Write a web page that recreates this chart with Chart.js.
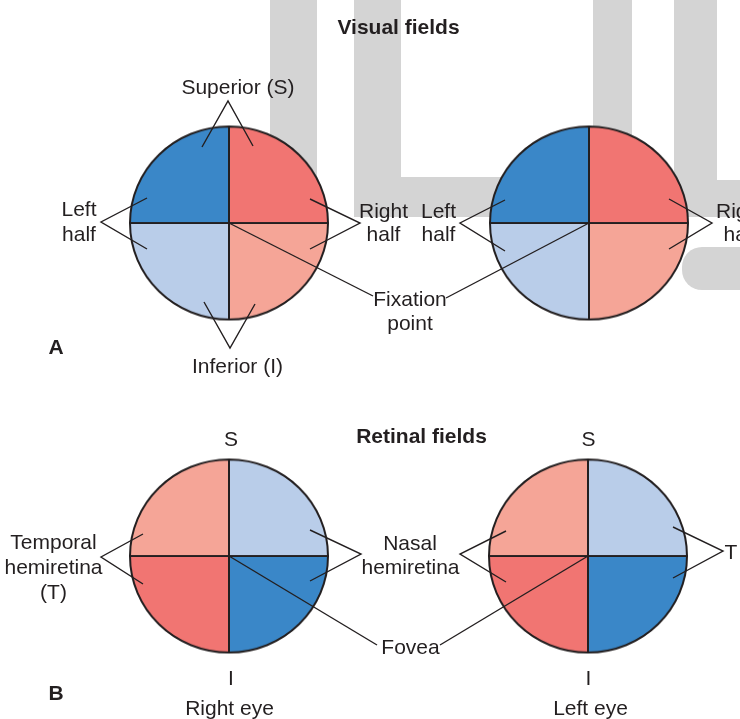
<!DOCTYPE html>
<html><head><meta charset="utf-8">
<script src="https://cdn.jsdelivr.net/npm/chart.js@4.4.1/dist/chart.umd.min.js"></script>
<style>
html,body{margin:0;padding:0;background:#fff;}
#stage{position:relative;width:740px;height:719px;overflow:hidden;background:#fff;}
.g{position:absolute;background:#d4d4d4;}
.pie{position:absolute;width:200px;height:200px;transform:scaleY(0.975);}
.pie canvas{display:block;}
#overlay{position:absolute;left:0;top:0;}
</style></head><body>
<div id="stage">
  <div class="g" style="left:270px;top:0;width:47px;height:223px"></div>
  <div class="g" style="left:354px;top:0;width:47px;height:217px"></div>
  <div class="g" style="left:354px;top:177px;width:278px;height:40px"></div>
  <div class="g" style="left:593px;top:0;width:39px;height:217px"></div>
  <div class="g" style="left:674px;top:0;width:43px;height:217px"></div>
  <div class="g" style="left:674px;top:180px;width:66px;height:37px"></div>
  <div class="g" style="left:682px;top:247px;width:100px;height:43px;border-radius:20px"></div>
  <div class="pie" style="left:129px;top:123px"><canvas id="pVL" width="200" height="200"></canvas></div>
  <div class="pie" style="left:489px;top:123px"><canvas id="pVR" width="200" height="200"></canvas></div>
  <div class="pie" style="left:129px;top:456px"><canvas id="pRL" width="200" height="200"></canvas></div>
  <div class="pie" style="left:488px;top:456px"><canvas id="pRR" width="200" height="200"></canvas></div>
  <canvas id="overlay" width="740" height="719"></canvas>
</div>
<script>
// ---- data ----
const quadrants = ['Superior right', 'Inferior right', 'Inferior left', 'Superior left'];
const quadrantValues = [25, 25, 25, 25];
const DARK_BLUE = '#3a87c8', RED = '#f17572', SALMON = '#f5a597', LIGHT_BLUE = '#b9cde9';
const visualFieldColors = [RED, SALMON, LIGHT_BLUE, DARK_BLUE];
const retinalFieldColors = [LIGHT_BLUE, DARK_BLUE, RED, SALMON];
const INK = '#231f20';

// leader lines (annotation layout)
const leaders = [
  [[202,147],[228,101],[253,146]],
  [[147,198],[101,222],[147,249]],
  [[310,199],[360,223],[310,249]],
  [[204,302],[230,348],[255,304]],
  [[229,223],[373,296]],
  [[446,298],[589,223]],
  [[505,200],[460,223],[505,251]],
  [[669,199],[712,223],[669,249]],
  [[143,534],[101,557],[143,584]],
  [[310,530],[361,554],[310,581]],
  [[506,531],[460,554],[506,582]],
  [[673,527],[723,551],[673,578]],
  [[229,556],[377,645]],
  [[440,645],[588,556]]
];

// text labels (annotation layout)
const textLabels = [
  {t:'Visual fields', x:398.5, y:26, b:true},
  {t:'Superior (S)', x:238, y:86.5},
  {t:'Left', x:79, y:208.5},{t:'half', x:79, y:233},
  {t:'Right', x:383.5, y:210},{t:'half', x:383.5, y:233.5},
  {t:'Left', x:438.5, y:210},{t:'half', x:438.5, y:233.5},
  {t:'Right', x:740.5, y:210},{t:'half', x:740.5, y:233.5},
  {t:'Fixation', x:410, y:298},{t:'point', x:410, y:322},
  {t:'Inferior (I)', x:237.5, y:365.5},
  {t:'A', x:56, y:346, b:true},
  {t:'S', x:231, y:438},{t:'S', x:588.5, y:438},
  {t:'Retinal fields', x:421.5, y:435, b:true},
  {t:'Temporal', x:53.5, y:541.5},{t:'hemiretina', x:53.5, y:566},{t:'(T)', x:53.5, y:591},
  {t:'Nasal', x:410, y:542},{t:'hemiretina', x:410.5, y:566},
  {t:'T', x:731, y:551},
  {t:'Fovea', x:410.5, y:646},
  {t:'I', x:231, y:677},{t:'I', x:588.5, y:677},
  {t:'B', x:56, y:692, b:true},
  {t:'Right eye', x:229.5, y:707.5},{t:'Left eye', x:590.5, y:707.5}
];

// ---- pies ----
function makePie(id, colors) {
  new Chart(document.getElementById(id), {
    type: 'pie',
    data: { labels: quadrants, datasets: [{ data: quadrantValues, backgroundColor: colors,
      borderColor: INK, borderWidth: 2 }] },
    options: { responsive: false, animation: false, events: [],
      layout: { padding: 0 },
      plugins: { legend: { display: false }, tooltip: { enabled: false } } }
  });
}
makePie('pVL', visualFieldColors);
makePie('pVR', visualFieldColors);
makePie('pRL', retinalFieldColors);
makePie('pRR', retinalFieldColors);

// ---- overlay: leader lines + text ----
const textPlugin = {
  id: 'texts',
  afterDatasetsDraw(chart) {
    const {ctx, scales: {x, y}} = chart;
    ctx.save();
    ctx.fillStyle = INK;
    ctx.textAlign = 'center';
    ctx.textBaseline = 'alphabetic';
    textLabels.forEach(l => {
      ctx.font = (l.b ? 'bold ' : '') + '21px "Liberation Sans", Arial, sans-serif';
      ctx.fillText(l.t, x.getPixelForValue(l.x), y.getPixelForValue(l.y) + 7.5);
    });
    ctx.restore();
  }
};
new Chart(document.getElementById('overlay'), {
  type: 'scatter',
  data: { datasets: leaders.map(pts => ({
    data: pts.map(([px, py]) => ({x: px, y: py})),
    showLine: true, borderColor: INK, borderWidth: 1.4, pointRadius: 0, fill: false, tension: 0
  })) },
  options: { responsive: false, animation: false, events: [],
    layout: { padding: 0 },
    scales: { x: { type: 'linear', min: 0, max: 740, display: false },
              y: { type: 'linear', min: 0, max: 719, reverse: true, display: false } },
    plugins: { legend: { display: false }, tooltip: { enabled: false } } },
  plugins: [textPlugin]
});
</script>
</body></html>
